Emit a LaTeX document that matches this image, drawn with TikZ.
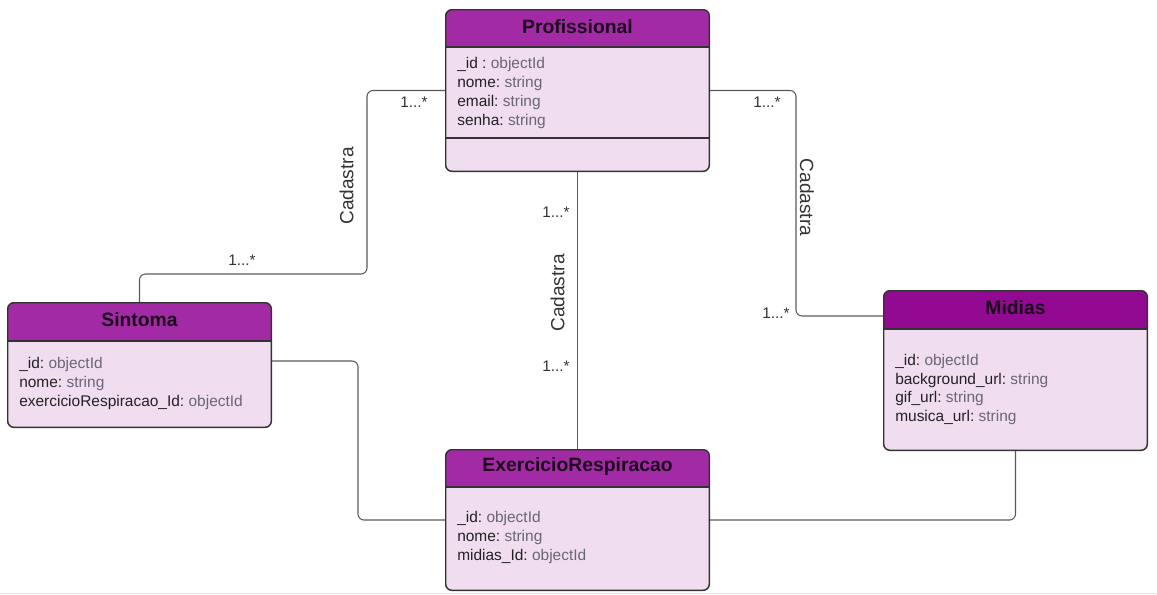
\documentclass[tikz,border=0pt]{standalone}
\usepackage{fontspec}
\setmainfont{Liberation Sans}
\definecolor{hdr}{RGB}{163,42,165}
\definecolor{hdrdark}{RGB}{146,10,146}
\definecolor{bodyc}{RGB}{240,222,240}
\definecolor{borderc}{RGB}{51,51,51}
\definecolor{ttl}{RGB}{28,8,28}
\definecolor{typ}{RGB}{105,102,118}
\definecolor{connc}{RGB}{90,90,90}
\definecolor{namec}{RGB}{34,34,34}
\newcommand\classdecor[4]{%
  \coordinate (#1hy) at (0,#2);
  \begin{scope}
    \clip (#1.north west) rectangle (#1.east |- #1hy);
    \fill[#3, rounded corners=4.5pt] (#1.north west) rectangle (#1.south east);
  \end{scope}
  \draw[borderc, line width=1.1pt] (#1.west |- #1hy) -- (#1.east |- #1hy);
  \draw[borderc, line width=1.1pt, rounded corners=4.5pt] (#1.north west) rectangle (#1.south east);
}
\newcommand\attrtext[2]{\textcolor{namec}{#1}\ \textcolor{typ}{#2}}
\begin{document}
\begin{tikzpicture}[x=0.75pt,y=-0.75pt,
  clsbox/.style={rectangle, rounded corners=4.5pt, fill=bodyc, draw=none, inner sep=0pt, minimum width=197.25pt},
  title/.style={font=\fontsize{14.5}{17}\selectfont\bfseries, text=ttl, inner sep=0pt},
  attr/.style={anchor=base west, font=\fontsize{11.6}{14}\selectfont, inner sep=0pt},
  conn/.style={draw=connc, line width=0.8pt, rounded corners=4.5pt},
  card/.style={font=\fontsize{11.5}{14}\selectfont, text=black!80, inner sep=0pt},
  rel/.style={font=\fontsize{14.3}{17}\selectfont, text=black!80, inner sep=0pt}]

\useasboundingbox (0,0) rectangle (1157,594);
\draw[black!10, line width=0.75pt] (0,593) -- (1157,593);

% class boxes
\node[clsbox, minimum height=120.75pt] (prof) at (577.5,90.5) {};
\node[clsbox, minimum height=93pt] (sint) at (139.5,365) {};
\node[clsbox, minimum height=119.25pt] (mid) at (1015.5,370.5) {};
\node[clsbox, minimum height=105pt] (ex) at (577.5,520) {};

% connectors
\coordinate (l1) at (367,274);
\draw[conn] (prof.west) -| (l1) -| (sint.north);
\coordinate (r1) at (796,316);
\coordinate (r2) at (884,316);
\draw[conn] (prof.east) -| (r1) -- (r2);
\draw[conn] (prof.south) -- (ex.north);
\coordinate (s1) at (271,361);
\coordinate (s2) at (358,520);
\draw[conn] (s1) -| (s2) -- (ex.west);
\draw[conn] (mid.south) |- (ex.east);

\classdecor{prof}{47}{hdr}{}
\draw[borderc, line width=1.1pt] (446,138) -- (709,138);
\classdecor{sint}{341}{hdr}{}
\classdecor{mid}{329}{hdrdark}{}
\classdecor{ex}{487}{hdr}{}

% titles
\node[title] (profT) at (577.5,27) {Profissional};
\node[title] (sintT) at (139.5,320) {Sintoma};
\node[title] (midT) at (1015.5,308) {Midias};
\node[title] (exT) at (577.5,466) {ExercicioRespiracao};

% attributes
\node[attr] (prof1) at (457,68) {\attrtext{\_id :}{objectId}};
\node[attr] (prof2) at (457,87) {\attrtext{nome:}{string}};
\node[attr] (prof3) at (457,106) {\attrtext{email:}{string}};
\node[attr] (prof4) at (457,125) {\attrtext{senha:}{string}};

\node[attr] (sint1) at (19,368) {\attrtext{\_id:}{objectId}};
\node[attr] (sint2) at (19,387) {\attrtext{nome:}{string}};
\node[attr] (sint3) at (19,406) {\attrtext{exercicioRespiracao\_Id:}{objectId}};

\node[attr] (mid1) at (895,365) {\attrtext{\_id:}{objectId}};
\node[attr] (mid2) at (895,384) {\attrtext{background\_url:}{string}};
\node[attr] (mid3) at (895,402.5) {\attrtext{gif\_url:}{string}};
\node[attr] (mid4) at (895,421) {\attrtext{musica\_url:}{string}};

\node[attr] (ex1) at (457,522.5) {\attrtext{\_id:}{objectId}};
\node[attr] (ex2) at (457,541.5) {\attrtext{nome:}{string}};
\node[attr] (ex3) at (457,560.5) {\attrtext{midias\_Id:}{objectId}};

% cardinalities
\node[card] (c1) at (414,102) {1...*};
\node[card] (c2) at (242,260) {1...*};
\node[card] (c3) at (556,212) {1...*};
\node[card] (c4) at (556,366) {1...*};
\node[card] (c5) at (767,102) {1...*};
\node[card] (c6) at (776,313) {1...*};

% relation labels
\node[rel, rotate=90] (rl) at (346.5,186) {Cadastra};
\node[rel, rotate=90] (rm) at (557.5,293) {Cadastra};
\node[rel, rotate=-90] (rr) at (807,197.5) {Cadastra};
\end{tikzpicture}
\end{document}
